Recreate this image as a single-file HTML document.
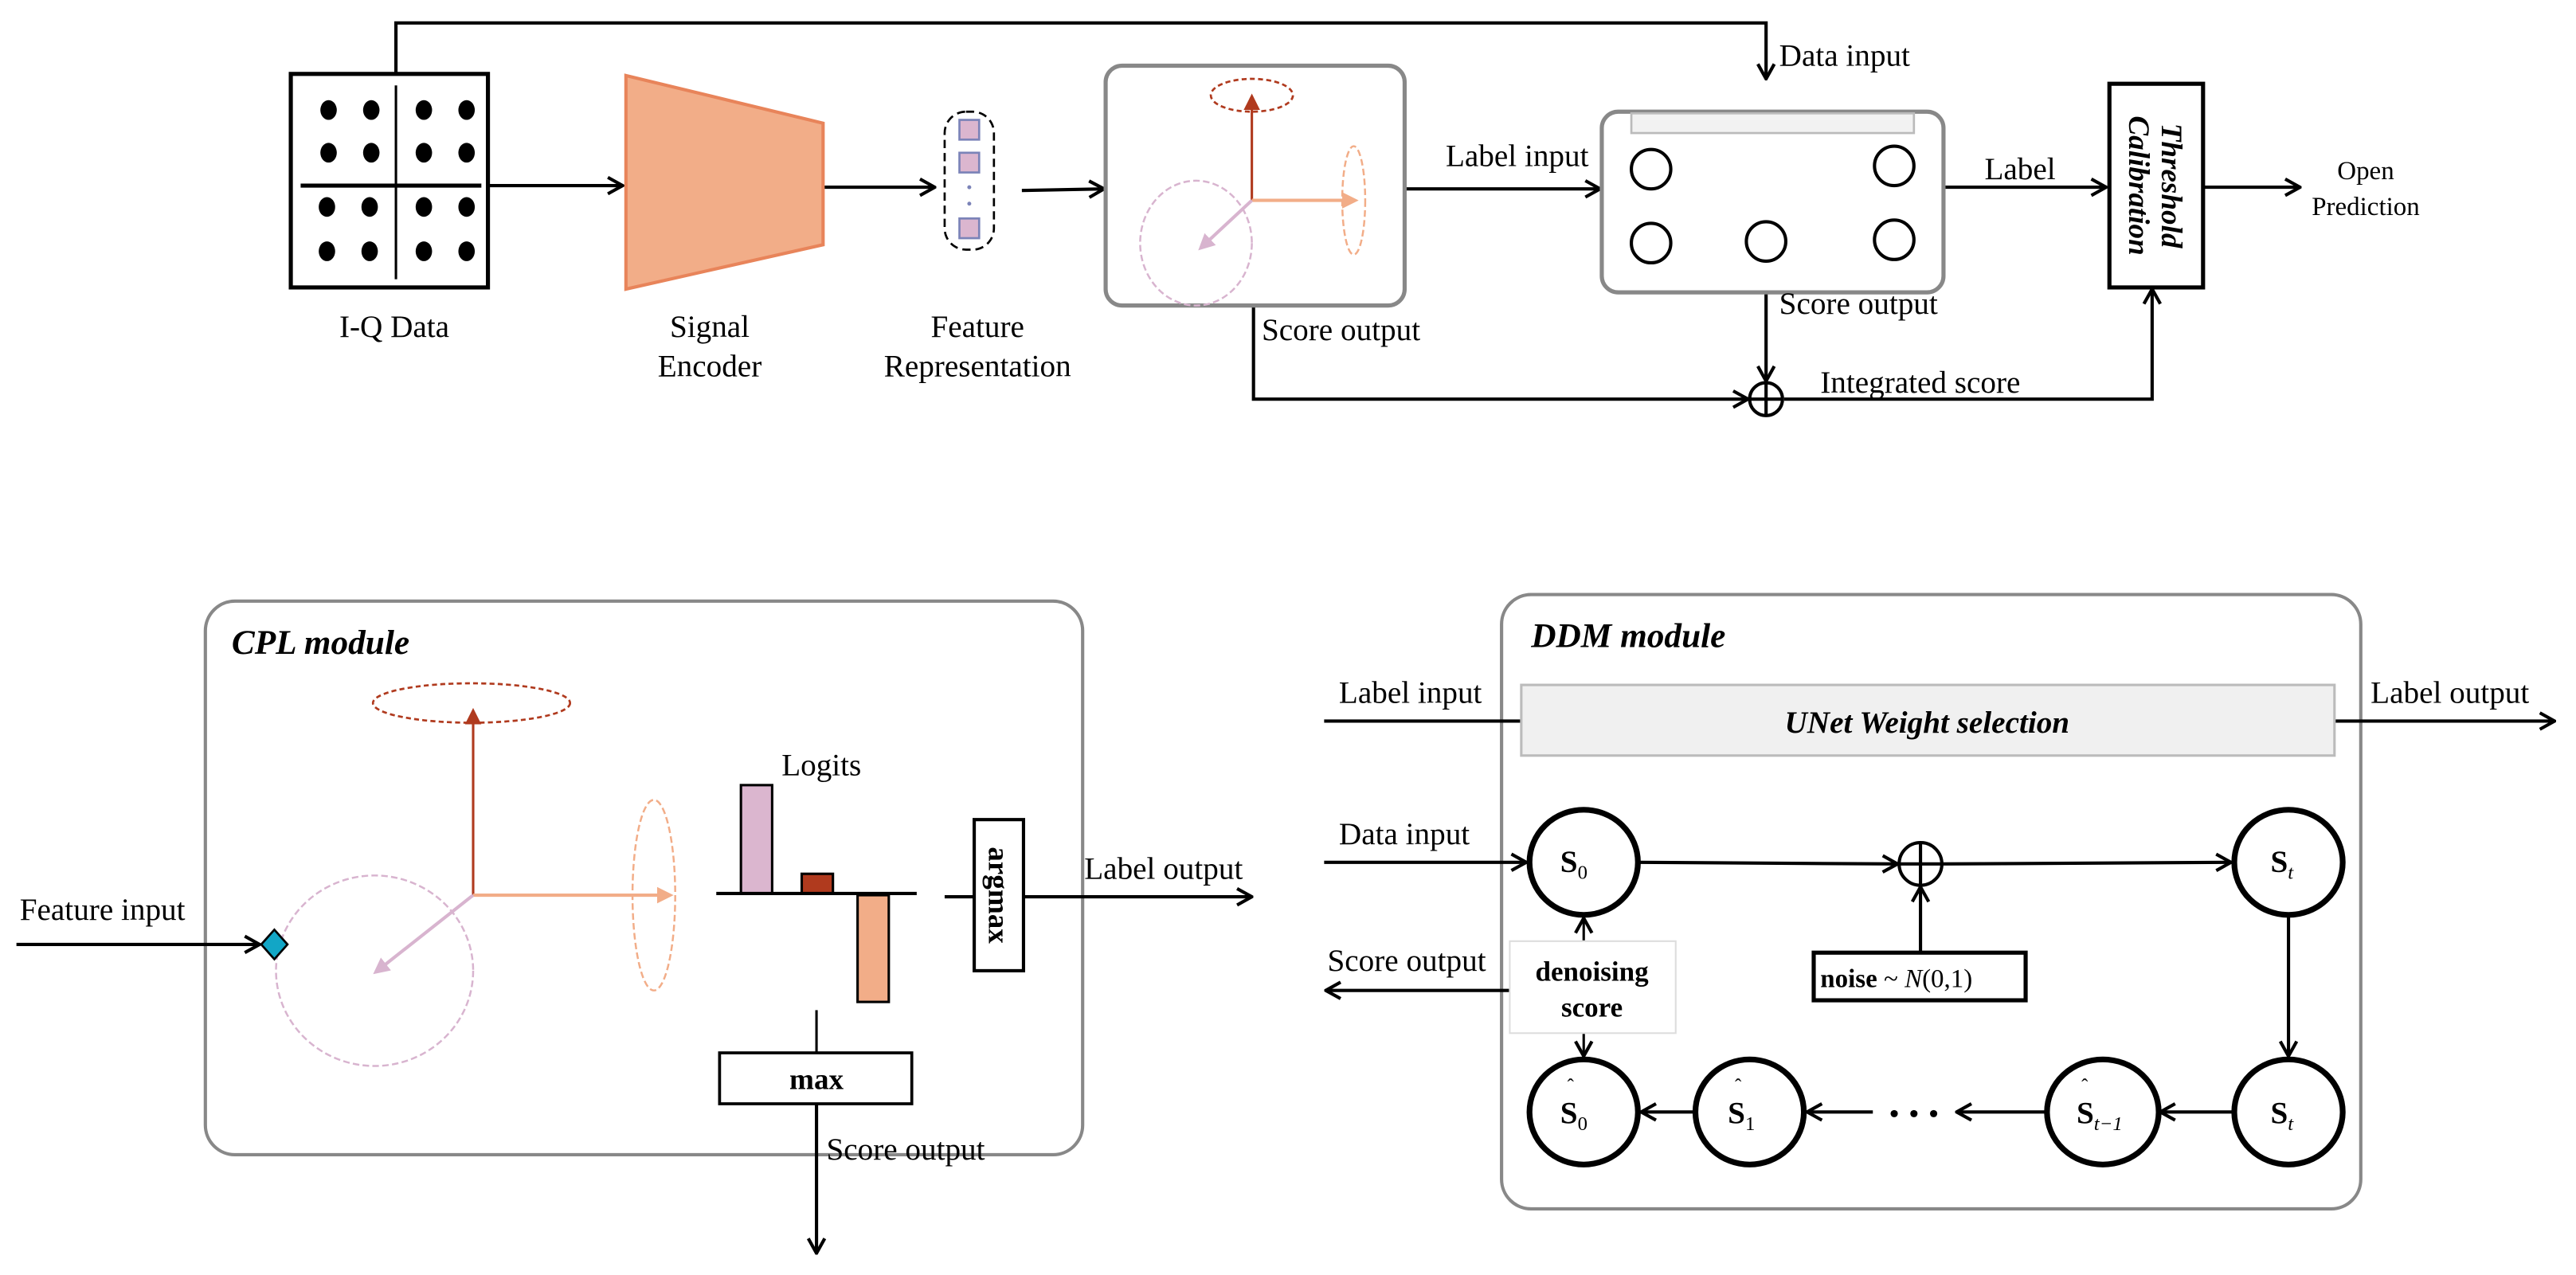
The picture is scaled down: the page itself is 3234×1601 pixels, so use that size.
<!DOCTYPE html>
<html><head><meta charset="utf-8"><style>
html,body{margin:0;padding:0;background:#fff;}
svg{display:block;}
text{font-family:"Liberation Serif",serif;fill:#000;}
</style></head><body>
<svg width="3234" height="1601" viewBox="0 0 1568 776.25" xmlns="http://www.w3.org/2000/svg">
<defs>
<marker id="a" viewBox="0 0 12 12" refX="11" refY="6" markerWidth="12" markerHeight="12" markerUnits="userSpaceOnUse" orient="auto">
<polyline points="2,1 11,6 2,11" fill="none" stroke="#000" stroke-width="2"/></marker>
<marker id="ar" viewBox="0 0 10 10" refX="5" refY="5" markerWidth="10" markerHeight="10" markerUnits="userSpaceOnUse" orient="auto">
<polygon points="0,0 10,5 0,10" fill="#b03a1e"/></marker>
<marker id="ao" viewBox="0 0 10 10" refX="5" refY="5" markerWidth="10" markerHeight="10" markerUnits="userSpaceOnUse" orient="auto">
<polygon points="0,0 10,5 0,10" fill="#f2ad88"/></marker>
<marker id="ap" viewBox="0 0 10 10" refX="5" refY="5" markerWidth="10" markerHeight="10" markerUnits="userSpaceOnUse" orient="auto">
<polygon points="0,0 10,5 0,10" fill="#d8b4cf"/></marker>
</defs>
<g fill="none" stroke="#000" stroke-width="2">
<polyline points="241,45 241,14 1075,14 1075,48" marker-end="url(#a)"/>
<line x1="297" y1="113" x2="379" y2="113" marker-end="url(#a)"/>
<line x1="501" y1="114" x2="569" y2="114" marker-end="url(#a)"/>
<line x1="622" y1="116" x2="672" y2="115" marker-end="url(#a)"/>
<line x1="855" y1="115" x2="974" y2="115" marker-end="url(#a)"/>
<line x1="1183" y1="114" x2="1282" y2="114" marker-end="url(#a)"/>
<line x1="1341" y1="114" x2="1400" y2="114" marker-end="url(#a)"/>
<polyline points="763,186 763,243 1064,243" marker-end="url(#a)"/>
<line x1="1075" y1="178" x2="1075" y2="232" marker-end="url(#a)"/>
<polyline points="1086,243 1310,243 1310,176" marker-end="url(#a)"/>
<circle cx="1075" cy="243" r="10"/>
<line x1="1065" y1="243" x2="1085" y2="243"/><line x1="1075" y1="233" x2="1075" y2="253"/>
</g>
<rect x="177" y="45" width="120" height="130" fill="#fff" stroke="#000" stroke-width="2.5"/>
<line x1="241" y1="52" x2="241" y2="170" stroke="#000" stroke-width="1.5"/>
<line x1="183" y1="113" x2="293" y2="113" stroke="#000" stroke-width="2.5"/>
<g fill="#000">
<ellipse cx="200" cy="67" rx="5" ry="6"/><ellipse cx="226" cy="67" rx="5" ry="6"/><ellipse cx="258" cy="67" rx="5" ry="6"/><ellipse cx="284" cy="67" rx="5" ry="6"/>
<ellipse cx="200" cy="93" rx="5" ry="6"/><ellipse cx="226" cy="93" rx="5" ry="6"/><ellipse cx="258" cy="93" rx="5" ry="6"/><ellipse cx="284" cy="93" rx="5" ry="6"/>
<ellipse cx="199" cy="126" rx="5" ry="6"/><ellipse cx="225" cy="126" rx="5" ry="6"/><ellipse cx="258" cy="126" rx="5" ry="6"/><ellipse cx="284" cy="126" rx="5" ry="6"/>
<ellipse cx="199" cy="153" rx="5" ry="6"/><ellipse cx="225" cy="153" rx="5" ry="6"/><ellipse cx="258" cy="153" rx="5" ry="6"/><ellipse cx="284" cy="153" rx="5" ry="6"/>
</g>
<polygon points="381,46 501,75 501,149 381,176" fill="#f2ad88" stroke="#e8845a" stroke-width="2"/>
<rect x="575" y="68" width="30" height="84" rx="13" fill="none" stroke="#000" stroke-width="1.3" stroke-dasharray="5,3"/>
<g fill="#dbb6cf" stroke="#7b83b8" stroke-width="1.3">
<rect x="584" y="73" width="12" height="12"/><rect x="584" y="93" width="12" height="12"/><rect x="584" y="133" width="12" height="12"/></g>
<circle cx="590" cy="114" r="1.2" fill="#7b83b8"/><circle cx="590" cy="124" r="1.2" fill="#7b83b8"/>
<rect x="673" y="40" width="182" height="146" rx="10" fill="#fff" stroke="#888" stroke-width="2.5"/>
<ellipse cx="762" cy="58" rx="25" ry="10" fill="none" stroke="#b03a1e" stroke-width="1.3" stroke-dasharray="3,2"/>
<line x1="762" y1="122" x2="762" y2="62" stroke="#b03a1e" stroke-width="1.5" marker-end="url(#ar)"/>
<ellipse cx="824" cy="122" rx="7" ry="33" fill="none" stroke="#f2ad88" stroke-width="1.2" stroke-dasharray="4,2"/>
<line x1="762" y1="122" x2="822" y2="122" stroke="#f2ad88" stroke-width="2" marker-end="url(#ao)"/>
<ellipse cx="728" cy="148" rx="34" ry="38" fill="none" stroke="#d8b4cf" stroke-width="1.2" stroke-dasharray="4,2"/>
<line x1="762" y1="122" x2="733" y2="149" stroke="#d8b4cf" stroke-width="2" marker-end="url(#ap)"/>
<rect x="975" y="68" width="208" height="110" rx="10" fill="#fff" stroke="#888" stroke-width="2.5"/>
<rect x="993" y="69" width="172" height="12" fill="#f2f2f2" stroke="#bbb" stroke-width="1.3"/>
<g fill="none" stroke="#000" stroke-width="2">
<ellipse cx="1005" cy="103" rx="12" ry="12"/><ellipse cx="1153" cy="101" rx="12" ry="12"/>
<ellipse cx="1005" cy="148" rx="12" ry="12"/><ellipse cx="1075" cy="147" rx="12" ry="12"/><ellipse cx="1153" cy="146" rx="12" ry="12"/></g>
<rect x="1284" y="51" width="57" height="124" fill="#fff" stroke="#000" stroke-width="2.5"/>
<text transform="translate(1312,113) rotate(90)" text-anchor="middle" font-size="18" font-weight="bold" font-style="italic"><tspan x="0" y="-4">Threshold</tspan><tspan x="0" y="16">Calibration</tspan></text>
<g font-size="19">
<text x="240" y="205" text-anchor="middle">I-Q Data</text>
<text x="432" y="205" text-anchor="middle">Signal</text>
<text x="432" y="229" text-anchor="middle">Encoder</text>
<text x="595" y="205" text-anchor="middle">Feature</text>
<text x="595" y="229" text-anchor="middle">Representation</text>
<text x="768" y="207">Score output</text>
<text x="880" y="101">Label input</text>
<text x="1083" y="40">Data input</text>
<text x="1083" y="191">Score output</text>
<text x="1208" y="109">Label</text>
<text x="1108" y="239">Integrated score</text>
<text x="1440" y="109" text-anchor="middle" font-size="16">Open</text>
<text x="1440" y="131" text-anchor="middle" font-size="16">Prediction</text>
</g>
<rect x="125" y="366" width="534" height="337" rx="18" fill="#fff" stroke="#888" stroke-width="2"/>
<text x="141" y="398" font-size="21" font-weight="bold" font-style="italic">CPL module</text>
<ellipse cx="287" cy="428" rx="60" ry="12" fill="none" stroke="#b03a1e" stroke-width="1.3" stroke-dasharray="3,2"/>
<line x1="288" y1="545" x2="288" y2="436" stroke="#b03a1e" stroke-width="1.5" marker-end="url(#ar)"/>
<ellipse cx="398" cy="545" rx="13" ry="58" fill="none" stroke="#f2ad88" stroke-width="1.2" stroke-dasharray="4,2"/>
<line x1="288" y1="545" x2="405" y2="545" stroke="#f2ad88" stroke-width="2" marker-end="url(#ao)"/>
<ellipse cx="228" cy="591" rx="60" ry="58" fill="none" stroke="#d8b4cf" stroke-width="1.2" stroke-dasharray="4,2"/>
<line x1="288" y1="545" x2="231" y2="590" stroke="#d8b4cf" stroke-width="2" marker-end="url(#ap)"/>
<line x1="10" y1="575" x2="158" y2="575" stroke="#000" stroke-width="2" marker-end="url(#a)"/>
<polygon points="167,566 175,575 167,584 159,575" fill="#12a6c6" stroke="#000" stroke-width="1.3"/>
<text x="12" y="560" font-size="19">Feature input</text>
<rect x="451" y="478" width="19" height="66" fill="#dbb6cf" stroke="#000" stroke-width="1.5"/>
<rect x="488" y="532" width="19" height="12" fill="#b03a1e" stroke="#000" stroke-width="1.5"/>
<rect x="522" y="545" width="19" height="65" fill="#f2ad88" stroke="#000" stroke-width="1.5"/>
<line x1="436" y1="544" x2="558" y2="544" stroke="#000" stroke-width="2"/>
<text x="500" y="472" font-size="19" text-anchor="middle">Logits</text>
<line x1="575" y1="546" x2="593" y2="546" stroke="#000" stroke-width="2"/>
<line x1="623" y1="546" x2="762" y2="546" stroke="#000" stroke-width="2" marker-end="url(#a)"/>
<rect x="593" y="499" width="30" height="92" fill="#fff" stroke="#000" stroke-width="2"/>
<text transform="translate(608,545) rotate(90)" text-anchor="middle" y="6" font-size="18" font-weight="bold">argmax</text>
<text x="660" y="535" font-size="19">Label output</text>
<line x1="497" y1="615" x2="497" y2="641" stroke="#000" stroke-width="1.5"/>
<rect x="438" y="641" width="117" height="31" fill="#fff" stroke="#000" stroke-width="1.8"/>
<text x="497" y="663" font-size="18" font-weight="bold" text-anchor="middle">max</text>
<line x1="497" y1="672" x2="497" y2="763" stroke="#000" stroke-width="2" marker-end="url(#a)"/>
<text x="503" y="706" font-size="19">Score output</text>
<rect x="914" y="362" width="523" height="374" rx="18" fill="#fff" stroke="#888" stroke-width="2"/>
<text x="932" y="394" font-size="21" font-weight="bold" font-style="italic">DDM module</text>
<line x1="806" y1="439" x2="926" y2="439" stroke="#000" stroke-width="2"/>
<line x1="1421" y1="439" x2="1555" y2="439" stroke="#000" stroke-width="2" marker-end="url(#a)"/>
<rect x="926" y="417" width="495" height="43" fill="#f0f0f0" stroke="#bbb" stroke-width="1.5"/>
<text x="1173" y="446" font-size="19" font-weight="bold" font-style="italic" text-anchor="middle">UNet Weight selection</text>
<g font-size="19">
<text x="815" y="428">Label input</text>
<text x="1443" y="428">Label output</text>
<text x="815" y="514">Data input</text>
<text x="808" y="591">Score output</text>
</g>
<g fill="none" stroke="#000" stroke-width="2">
<line x1="806" y1="525" x2="929" y2="525" marker-end="url(#a)"/>
<line x1="998" y1="525" x2="1155" y2="526" marker-end="url(#a)"/>
<line x1="1182" y1="526" x2="1358" y2="525" marker-end="url(#a)"/>
<line x1="1169" y1="580" x2="1169" y2="540" marker-end="url(#a)"/>
<line x1="1393" y1="557" x2="1393" y2="643" marker-end="url(#a)"/>
<line x1="1359" y1="677" x2="1315" y2="677" marker-end="url(#a)"/>
<line x1="1245" y1="677" x2="1191" y2="677" marker-end="url(#a)"/>
<line x1="1140" y1="677" x2="1100" y2="677" marker-end="url(#a)"/>
<line x1="1031" y1="677" x2="999" y2="677" marker-end="url(#a)"/>
<line x1="919" y1="603" x2="807" y2="603" marker-end="url(#a)"/>
<circle cx="1169" cy="526" r="13"/>
<line x1="1156" y1="526" x2="1182" y2="526"/><line x1="1169" y1="513" x2="1169" y2="539"/>
</g>
<g fill="#000"><circle cx="1153" cy="678" r="2.2"/><circle cx="1165" cy="678" r="2.2"/><circle cx="1177" cy="678" r="2.2"/></g>
<g fill="none" stroke="#000" stroke-width="1.5">
<line x1="964" y1="573" x2="964" y2="559" marker-end="url(#a)"/>
<line x1="964" y1="629" x2="964" y2="643" marker-end="url(#a)"/>
</g>
<g fill="#fff" stroke="#000" stroke-width="3.5">
<ellipse cx="964" cy="525" rx="33" ry="32"/><ellipse cx="1393" cy="525" rx="33" ry="32"/>
<ellipse cx="964" cy="677" rx="33" ry="32"/><ellipse cx="1065" cy="677" rx="33" ry="32"/>
<ellipse cx="1280" cy="677" rx="34" ry="32"/><ellipse cx="1393" cy="677" rx="33" ry="32"/>
</g>
<g font-size="19" font-weight="bold">
<text x="958" y="531" text-anchor="middle">S<tspan font-size="12" font-weight="normal" dy="4">0</tspan></text>
<text x="1389" y="531" text-anchor="middle">S<tspan font-size="12" font-weight="normal" font-style="italic" dy="4">t</tspan></text>
<text x="1389" y="684" text-anchor="middle">S<tspan font-size="12" font-weight="normal" font-style="italic" dy="4">t</tspan></text>
<text x="958" y="684" text-anchor="middle">S<tspan font-size="12" font-weight="normal" dy="4">0</tspan></text>
<text x="1060" y="684" text-anchor="middle">S<tspan font-size="12" font-weight="normal" dy="4">1</tspan></text>
<text x="1278" y="684" text-anchor="middle">S<tspan font-size="12" font-weight="normal" font-style="italic" dy="4">t−1</tspan></text>
</g>
<g font-size="12"><text x="954" y="665">ˆ</text><text x="1056" y="665">ˆ</text><text x="1267" y="665">ˆ</text></g>
<rect x="919" y="573" width="101" height="56" fill="#fff" stroke="#ddd" stroke-width="1"/>
<text x="969" y="597" font-size="17" font-weight="bold" text-anchor="middle">denoising</text>
<text x="969" y="619" font-size="17" font-weight="bold" text-anchor="middle">score</text>
<rect x="1104" y="580" width="129" height="29" fill="#fff" stroke="#000" stroke-width="2.5"/>
<text x="1108" y="601" font-size="16"><tspan font-weight="bold">noise</tspan> ~ <tspan font-style="italic">N</tspan>(0,1)</text>
</svg>
</body></html>
